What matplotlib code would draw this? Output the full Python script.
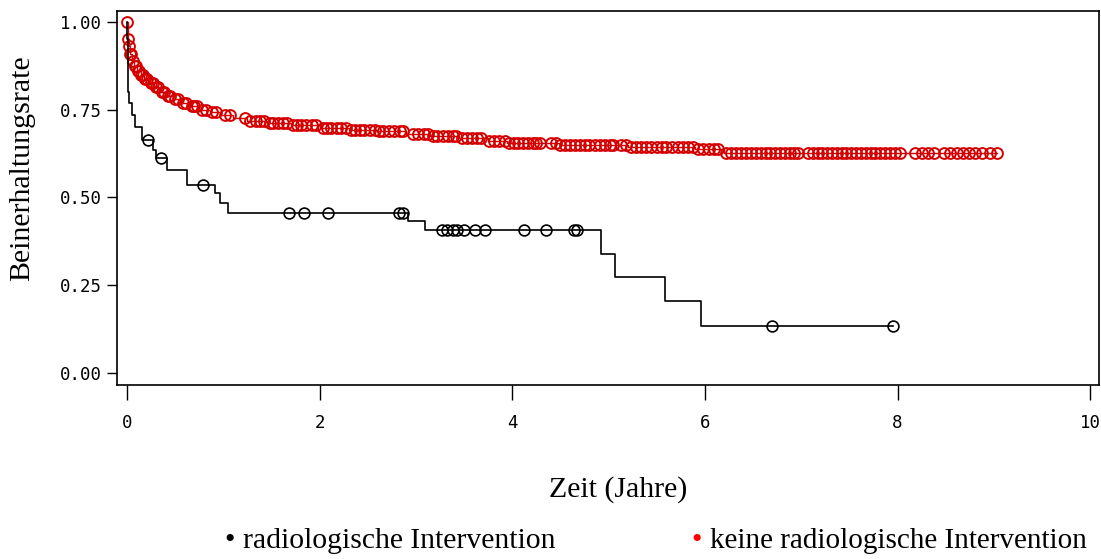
import matplotlib
matplotlib.use("Agg")
import matplotlib.pyplot as plt
import numpy as np

# radiologische Intervention (black): event times and survival after each event
black_t = [0.0, 0.003, 0.006, 0.01, 0.015, 0.02, 0.05, 0.08, 0.16, 0.27, 0.30, 0.41,
           0.62, 0.91, 0.97, 1.05, 2.92, 3.09, 4.92, 5.07, 5.59, 5.96, 7.95]
black_s = [1.0, 0.95, 0.90, 0.85, 0.80, 0.77, 0.735, 0.70, 0.665, 0.635, 0.612, 0.578,
           0.535, 0.512, 0.485, 0.456, 0.433, 0.407, 0.339, 0.273, 0.205, 0.134, 0.134]
black_cens = [0.22, 0.35, 0.79, 1.68, 1.84, 2.09, 2.82, 2.87, 3.27, 3.32, 3.38, 3.43,
              3.50, 3.61, 3.72, 4.12, 4.35, 4.64, 4.67, 6.70, 7.95]

# keine radiologische Intervention (red)
red_t = [0.0, 0.005, 0.01, 0.02, 0.03, 0.05, 0.07, 0.10, 0.14, 0.18, 0.23, 0.28,
         0.34, 0.41, 0.48, 0.56, 0.65, 0.75, 0.86, 0.98, 1.10, 1.25, 1.45, 1.70,
         2.00, 2.30, 2.60, 2.90, 3.15, 3.45, 3.75, 3.95, 4.50, 5.20, 5.90, 6.20, 9.03]
red_s = [1.0, 0.97, 0.95, 0.93, 0.91, 0.89, 0.875, 0.86, 0.848, 0.838, 0.826, 0.815,
         0.80, 0.79, 0.78, 0.77, 0.76, 0.75, 0.743, 0.735, 0.727, 0.719, 0.712, 0.705,
         0.698, 0.693, 0.688, 0.682, 0.674, 0.668, 0.662, 0.655, 0.650, 0.645, 0.638, 0.627, 0.627]
red_cens = [0.0, 0.01, 0.02, 0.03, 0.04, 0.06, 0.08, 0.09, 0.11, 0.12, 0.15, 0.17, 0.19,
            0.21, 0.25, 0.27, 0.30, 0.32, 0.36, 0.38, 0.43, 0.45, 0.50, 0.53, 0.58,
            0.61, 0.67, 0.70, 0.73, 0.78, 0.82, 0.88, 0.92, 1.02, 1.07,
            1.22, 1.28, 1.34, 1.38, 1.42, 1.48, 1.52, 1.57, 1.62, 1.66, 1.72, 1.76,
            1.81, 1.86, 1.92, 1.96, 2.03, 2.08, 2.12, 2.18, 2.22, 2.27, 2.33, 2.37,
            2.42, 2.46, 2.52, 2.57, 2.62, 2.66, 2.72, 2.77, 2.83, 2.87, 2.97, 3.02,
            3.08, 3.13, 3.18, 3.22, 3.28, 3.33, 3.38, 3.42, 3.48, 3.53, 3.58, 3.63, 3.68,
            3.76, 3.81, 3.86, 3.92, 3.97, 4.02, 4.06, 4.11, 4.16, 4.21, 4.25, 4.29,
            4.40, 4.45, 4.50, 4.55, 4.60, 4.65, 4.70, 4.75, 4.80, 4.86, 4.91, 4.96, 5.01, 5.05,
            5.13, 5.18, 5.23, 5.28, 5.34, 5.39, 5.44, 5.50, 5.55, 5.60, 5.66, 5.72, 5.77,
            5.82, 5.88, 5.93, 5.98, 6.04, 6.09, 6.14, 6.22, 6.27, 6.32, 6.37, 6.43, 6.48,
            6.53, 6.58, 6.63, 6.68, 6.73, 6.78, 6.83, 6.88, 6.93, 6.97,
            7.07, 7.12, 7.17, 7.22, 7.27, 7.32, 7.37, 7.42, 7.47, 7.52, 7.57, 7.62,
            7.67, 7.72, 7.77, 7.82, 7.87, 7.92, 7.97, 8.03,
            8.18, 8.25, 8.32, 8.38, 8.48, 8.55, 8.62, 8.68, 8.74, 8.80, 8.88, 8.96, 9.03]

x_ticks = [0, 2, 4, 6, 8, 10]
y_ticks = [0.0, 0.25, 0.5, 0.75, 1.0]
y_ticklabels = ['0.00', '0.25', '0.50', '0.75', '1.00']


def surv_at(times, surv, tc):
    # value of the step function just at the censor time
    idx = np.searchsorted(times, tc, side='right') - 1
    return np.array(surv)[idx]


fig = plt.figure(figsize=(11.01, 5.59), dpi=100)
ax = fig.add_axes([0.1063, 0.3113, 0.8917, 0.669])

ax.plot(red_t, red_s, drawstyle='steps-post', color='#d00000', linewidth=1.0)
ax.plot(red_cens, surv_at(red_t, red_s, red_cens), linestyle='none', marker='o',
        markersize=7.8, markerfacecolor='none', markeredgecolor='#d40000', markeredgewidth=1.4)

ax.plot(black_t, black_s, drawstyle='steps-post', color='black', linewidth=1.2)
ax.plot(black_cens, surv_at(black_t, black_s, black_cens), linestyle='none', marker='o',
        markersize=7.8, markerfacecolor='none', markeredgecolor='black', markeredgewidth=1.2)

ax.set_xlim(-0.104, 10.09)
ax.set_ylim(-0.034, 1.031)
ax.set_xticks(x_ticks)
ax.set_yticks(y_ticks)
ax.set_yticklabels(y_ticklabels)
ax.tick_params(axis='x', length=11, width=1, pad=10, labelsize=12.5)
ax.tick_params(axis='y', length=7, width=1, pad=4, labelsize=12.5)
for lab in ax.get_xticklabels() + ax.get_yticklabels():
    lab.set_family('DejaVu Sans Mono')
for sp in ax.spines.values():
    sp.set_linewidth(1.2)

serif = 'Liberation Serif'
fig.text(0.02, 1 - 168 / 559, 'Beinerhaltungsrate', rotation=90, ha='center', va='center',
         family=serif, fontsize=21.5)
fig.text(618 / 1101, 1 - 490 / 559, 'Zeit (Jahre)', ha='center', va='center',
         family=serif, fontsize=21.5)

ly = 1 - 541 / 559
fig.text(224 / 1101, ly, '•', ha='left', va='center', family=serif, fontsize=21.5, color='black')
fig.text(243 / 1101, ly, 'radiologische Intervention', ha='left', va='center',
         family=serif, fontsize=21.3)
fig.text(691 / 1101, ly, '•', ha='left', va='center', family=serif, fontsize=21.5, color='red')
fig.text(710 / 1101, ly, 'keine radiologische Intervention', ha='left', va='center',
         family=serif, fontsize=21)

fig.savefig('out.png', dpi=100)
